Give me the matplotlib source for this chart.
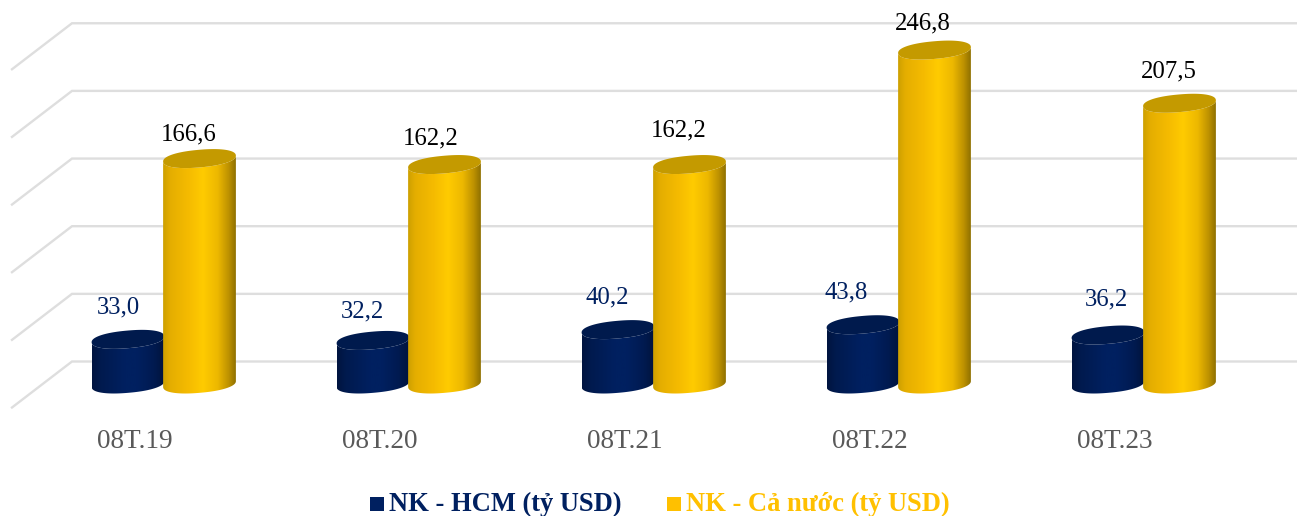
import numpy as np
import matplotlib
matplotlib.use("Agg")
import matplotlib.pyplot as plt
from matplotlib.colors import LinearSegmentedColormap
from matplotlib.patches import Polygon

categories = ["08T.19", "08T.20", "08T.21", "08T.22", "08T.23"]
hcm_values = [33.0, 32.2, 40.2, 43.8, 36.2]
national_values = [166.6, 162.2, 162.2, 246.8, 207.5]
hcm_labels = ["33,0", "32,2", "40,2", "43,8", "36,2"]
national_labels = ["166,6", "162,2", "162,2", "246,8", "207,5"]
grid_values = [0, 50, 100, 150, 200, 250]
legend_names = ["NK - HCM (tỷ USD)", "NK - Cả nước (tỷ USD)"]

W, H = 1297, 516
PXU = 1.353          # pixels per value unit
BASE = 384           # pixel row of value 0 at the bar centres
STEP = 245           # pixels between categories
X0 = 164             # pixel column of the first category

fig = plt.figure(figsize=(W / 100, H / 100), dpi=100, facecolor="white")
ax = fig.add_axes([0, 0, 1, 1])
ax.set_xlim(-X0 / STEP, (W - X0) / STEP)
ax.set_ylim((BASE - H) / PXU, BASE / PXU)
ax.axis("off")
plt.rcParams["font.family"] = ["Liberation Serif", "DejaVu Serif"]

dx = 1 / STEP        # data units per pixel, x
dy = 1 / PXU         # data units per pixel, y

# hand placement of the value labels (pixels, x offset from category centre, y above bar top)
hcm_nudge = [(-46, 32), (-47, 29), (-47, 32), (-53, 32), (-38, 36)]
nat_nudge = [(25, 24), (22, 26), (25, 34), (24, 27), (25, 32)]

# floor / wall grid
WALL = 22.5 * dy
for g in grid_values:
    yb = g + WALL
    ax.plot([(12 - X0) * dx, (72 - X0) * dx, (W - X0) * dx],
            [yb - 46 * dy, yb, yb], color="#DEDEDE", lw=1.7, zorder=1,
            solid_joinstyle="miter")

navy = LinearSegmentedColormap.from_list("n", [(0, "#00143F"), (.12, "#001A4E"), (.45, "#002060"),
                                               (.62, "#002060"), (.85, "#001A50"), (1, "#00133C")])
gold = LinearSegmentedColormap.from_list("g", [(0, "#CDA000"), (.1, "#E5AE00"), (.35, "#F5BB00"),
                                               (.55, "#FFCB00"), (.75, "#EDB800"), (.9, "#BE9200"),
                                               (1, "#8F7000")])
ramp = np.linspace(0, 1, 256)[None, :]

def ellipse(cx, cy):
    t = np.linspace(0, 2 * np.pi, 160, endpoint=False)
    a, b, tilt, p = 36.5, 8.8, np.radians(5.0), 0.9
    ux = a * np.sign(np.cos(t)) * np.abs(np.cos(t)) ** p
    uy = b * np.sign(np.sin(t)) * np.abs(np.sin(t)) ** p
    px = ux * np.cos(tilt) - uy * np.sin(tilt)
    py = ux * np.sin(tilt) + uy * np.cos(tilt)
    return cx + px * dx, cy + py * dy

def cylinder(cx, value, cmap, top_color, z):
    ex0, ey0 = ellipse(cx, 0)
    ex1, ey1 = ellipse(cx, value)
    n = len(ex0)
    t0, t1 = ex0.argmin(), ex0.argmax()
    arc = list(np.arange(t0, t0 + n) % n)
    stop = arc.index(t1)
    bottom = [(ex0[i], ey0[i]) for i in arc[:stop + 1]]
    top = [(ex1[i], ey1[i]) for i in arc[:stop + 1]][::-1]
    clip = Polygon(bottom + top, closed=True, transform=ax.transData, fc="none", ec="none")
    ax.add_patch(clip)
    im = ax.imshow(ramp, cmap=cmap, extent=[ex0.min(), ex0.max(), -60, 300], aspect="auto",
                   zorder=z, interpolation="bilinear")
    im.set_clip_path(clip)
    ax.fill(ex1, ey1, color=top_color, zorder=z + .1, lw=0)

for i, (h, n) in enumerate(zip(hcm_values, national_values)):
    cylinder(i - 36 * dx, h, navy, "#001A4D", 3)
    cylinder(i + 35.5 * dx, n, gold, "#C49A00", 4)
    ax.text(i + hcm_nudge[i][0] * dx, h + hcm_nudge[i][1] * dy, hcm_labels[i], color="#002060",
            fontsize=17.8, ha="center", va="center", zorder=6)
    ax.text(i + nat_nudge[i][0] * dx, n + nat_nudge[i][1] * dy, national_labels[i], color="black",
            fontsize=17.8, ha="center", va="center", zorder=6)
    ax.text(i - 29.5 * dx, -58 * dy, categories[i], color="#595959", fontsize=19.6,
            ha="center", va="center", zorder=6)

# legend
ly = (BASE - 504) * dy
for x, name, c in [(370, legend_names[0], "#002060"), (667, legend_names[1], "#FFC000")]:
    ax.fill_between([(x - X0) * dx, (x + 14 - X0) * dx], ly - 7 * dy, ly + 7 * dy, color=c, lw=0)
    ax.text((x + 19 - X0) * dx, ly, name, color=c, fontsize=19.1, fontweight="bold",
            ha="left", va="center")

fig.savefig("out.png", dpi=100)
